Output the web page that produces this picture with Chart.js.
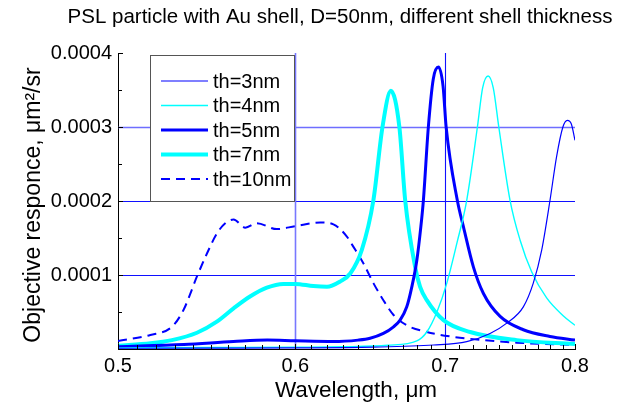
<!DOCTYPE html>
<html>
<head>
<meta charset="utf-8">
<script src="https://cdn.jsdelivr.net/npm/chart.js@4.4.1/dist/chart.umd.min.js"></script>
<style>
  html, body { margin: 0; padding: 0; background: #fff; }
  canvas { display: block; }
</style>
</head>
<body>
<canvas id="spectra" width="622" height="407"></canvas>
<script>
// wavelength (um) and objective responce (um^2/sr)
const wl3 = [0.50, 0.55, 0.60, 0.65, 0.6917, 0.7157, 0.7331, 0.7458, 0.7586, 0.7664, 0.7731, 0.7797, 0.785, 0.7901, 0.7937, 0.797, 0.80];
const th3 = [1.0e-6, 1.2e-6, 1.5e-6, 2.5e-6, 5.4e-6, 1.0e-5, 2.1e-5, 3.5e-5, 5.7e-5, 8.9e-5, 1.34e-4, 2.01e-4, 2.6e-4, 3.0e-4, 3.09e-4, 3.04e-4, 2.82e-4];

const wl4 = [0.50, 0.55, 0.60, 0.63, 0.66, 0.6799, 0.6869, 0.6941, 0.7012, 0.7085, 0.7157, 0.7236, 0.7275, 0.7316, 0.7355, 0.7397, 0.7483, 0.7561, 0.7652, 0.777, 0.7903, 0.80];
const th4 = [1.5e-6, 2e-6, 2.5e-6, 3e-6, 5e-6, 1.1e-5, 2.3e-5, 5.0e-5, 8.9e-5, 1.43e-4, 2.01e-4, 3.0e-4, 3.53e-4, 3.69e-4, 3.53e-4, 3.0e-4, 2.01e-4, 1.47e-4, 1.04e-4, 6.9e-5, 4.5e-5, 3.2e-5];

const wl5 = [0.50, 0.535, 0.563, 0.583, 0.60, 0.624, 0.64, 0.648, 0.6569, 0.6638, 0.6683, 0.6729, 0.6764, 0.6799, 0.6827, 0.6845, 0.688, 0.6915, 0.6952, 0.6985, 0.7007, 0.7088, 0.7133, 0.7206, 0.7281, 0.7407, 0.7586, 0.7797, 0.80];
const th5 = [3e-6, 6e-6, 1.0e-5, 1.2e-5, 1.1e-5, 1.0e-5, 1.2e-5, 1.45e-5, 2.1e-5, 3.0e-5, 3.9e-5, 5.7e-5, 8.4e-5, 1.2e-4, 1.65e-4, 2.01e-4, 3.0e-4, 3.65e-4, 3.81e-4, 3.55e-4, 3.0e-4, 2.01e-4, 1.65e-4, 1.11e-4, 7.5e-5, 4.4e-5, 2.6e-5, 1.7e-5, 1.2e-5];

const wl7 = [0.50, 0.517, 0.5285, 0.5423, 0.5535, 0.5631, 0.5727, 0.5827, 0.5927, 0.60, 0.6112, 0.6199, 0.6282, 0.6349, 0.6425, 0.6502, 0.6563, 0.662, 0.6678, 0.6718, 0.6787, 0.6822, 0.6869, 0.6988, 0.7182, 0.7535, 0.80];
const th7 = [4.5e-6, 7.7e-6, 1.2e-5, 2.2e-5, 3.7e-5, 5.5e-5, 7.1e-5, 8.3e-5, 8.8e-5, 8.8e-5, 8.5e-5, 8.4e-5, 9.1e-5, 1.02e-4, 1.34e-4, 2.01e-4, 3.0e-4, 3.49e-4, 3.0e-4, 2.01e-4, 1.11e-4, 8.4e-5, 6.6e-5, 3.9e-5, 2.3e-5, 1.2e-5, 6.8e-6];

const wl10 = [0.50, 0.5169, 0.5285, 0.5349, 0.5423, 0.5479, 0.5535, 0.5583, 0.5631, 0.5699, 0.5768, 0.5887, 0.60, 0.6156, 0.624, 0.6327, 0.637, 0.6435, 0.6502, 0.6569, 0.6638, 0.6729, 0.6869, 0.7036, 0.7281, 0.7535, 0.80];
const th10 = [1.08e-5, 1.9e-5, 3.0e-5, 5.3e-5, 9.8e-5, 1.29e-4, 1.56e-4, 1.70e-4, 1.75e-4, 1.64e-4, 1.70e-4, 1.62e-4, 1.66e-4, 1.71e-4, 1.685e-4, 1.52e-4, 1.38e-4, 1.16e-4, 8.9e-5, 6.6e-5, 4.6e-5, 3.2e-5, 2.3e-5, 1.7e-5, 1.2e-5, 8.5e-6, 5.4e-6];

const seriesNames = ["th=3nm", "th=4nm", "th=5nm", "th=7nm", "th=10nm"];
const xTicks = [0.5, 0.6, 0.7, 0.8];
const yTicks = [0, 0.0001, 0.0002, 0.0003, 0.0004];

const FONT = "'Liberation Sans', Arial, Helvetica, sans-serif";
const BLUE = "#0000ff";
const CYAN = "#00ffff";

function pts(xs, ys) {
  return xs.map((x, i) => ({ x: x, y: ys[i] }));
}

const data = {
  datasets: [
    { label: seriesNames[0], data: pts(wl3, th3), borderColor: BLUE, borderWidth: 1.2 },
    { label: seriesNames[1], data: pts(wl4, th4), borderColor: CYAN, borderWidth: 1.4 },
    { label: seriesNames[2], data: pts(wl5, th5), borderColor: BLUE, borderWidth: 3 },
    { label: seriesNames[3], data: pts(wl7, th7), borderColor: CYAN, borderWidth: 4 },
    { label: seriesNames[4], data: pts(wl10, th10), borderColor: BLUE, borderWidth: 2, borderDash: [9, 6] }
  ]
};

// blue grid lines, drawn under the curves
const blueGrid = {
  id: "blueGrid",
  beforeDatasetsDraw(chart) {
    const ctx = chart.ctx;
    const xs = chart.scales.x;
    const ys = chart.scales.y;
    const a = chart.chartArea;
    ctx.save();
    yTicks.slice(1, 4).forEach(v => {
      const light = Math.abs(v - 0.0003) < 1e-9;
      const y = Math.round(ys.getPixelForValue(v)) + 0.5;
      ctx.strokeStyle = light ? "#6e6eff" : "#1010ff";
      ctx.lineWidth = light ? 1.6 : 1.1;
      ctx.beginPath();
      ctx.moveTo(a.left, y);
      ctx.lineTo(a.right, y);
      ctx.stroke();
    });
    xTicks.slice(1, 3).forEach(v => {
      const light = Math.abs(v - 0.6) < 1e-9;
      const x = Math.round(xs.getPixelForValue(v)) + 0.5;
      ctx.strokeStyle = light ? "#7878ff" : "#1010ff";
      ctx.lineWidth = light ? 1.6 : 1.1;
      ctx.beginPath();
      ctx.moveTo(x, a.top);
      ctx.lineTo(x, a.bottom);
      ctx.stroke();
    });
    ctx.restore();
  }
};

// title, axis titles, inner minor ticks and the boxed legend
const decorations = {
  id: "decorations",
  afterDraw(chart) {
    const ctx = chart.ctx;
    const xs = chart.scales.x;
    const ys = chart.scales.y;
    const area = chart.chartArea;
    ctx.save();
    ctx.fillStyle = "#000";

    ctx.font = "20.5px " + FONT;
    ctx.textAlign = "center";
    ctx.textBaseline = "middle";
    ctx.fillText("PSL particle with Au shell, D=50nm, different shell thickness", 340, 17);

    ctx.font = "22.5px " + FONT;
    ctx.textBaseline = "alphabetic";
    ctx.fillText("Wavelength, \u03bcm", 356, 397);

    ctx.save();
    ctx.font = "23px " + FONT;
    ctx.translate(40, 205);
    ctx.rotate(-Math.PI / 2);
    ctx.fillText("Objective responce, \u03bcm\u00b2/sr", 0, 0);
    ctx.restore();

    // ticks pointing into the plot
    ctx.strokeStyle = "#000";
    ctx.lineWidth = 1;
    ctx.beginPath();
    for (let k = 1; k <= 8; k++) {
      const y = Math.round(ys.getPixelForValue(k * 0.00005)) + 0.5;
      const len = k % 2 === 0 ? 5 : 4;
      ctx.moveTo(area.left, y);
      ctx.lineTo(area.left + len, y);
    }
    for (let k = 50; k <= 80; k++) {
      const x = Math.round(xs.getPixelForValue(k / 100)) + 0.5;
      const len = k % 10 === 0 ? 5 : 4;
      ctx.moveTo(x, area.bottom);
      ctx.lineTo(x, area.bottom - len);
    }
    ctx.stroke();

    // legend box
    const bx = 150.5, by = 55.5, bw = 144, bh = 146;
    ctx.fillStyle = "#fff";
    ctx.fillRect(bx, by, bw, bh);
    ctx.strokeStyle = "#555";
    ctx.lineWidth = 1;
    ctx.strokeRect(bx, by, bw, bh);
    ctx.font = "20px " + FONT;
    ctx.textAlign = "left";
    ctx.textBaseline = "middle";
    chart.data.datasets.forEach((ds, i) => {
      const y = 81 + i * 24.5;
      ctx.save();
      ctx.strokeStyle = ds.borderColor;
      ctx.lineWidth = ds.borderWidth;
      ctx.setLineDash(ds.borderDash || []);
      ctx.beginPath();
      ctx.moveTo(161, y);
      ctx.lineTo(208, y);
      ctx.stroke();
      ctx.restore();
      ctx.fillStyle = "#000";
      ctx.fillText(ds.label, 213, y + 1);
    });
    ctx.restore();
  }
};

new Chart(document.getElementById("spectra").getContext("2d"), {
  type: "line",
  data: data,
  plugins: [blueGrid, decorations],
  options: {
    responsive: false,
    animation: false,
    devicePixelRatio: 1,
    layout: { padding: { left: 0, right: 47, top: 53, bottom: 0 } },
    elements: {
      point: { radius: 0 },
      line: { fill: false, cubicInterpolationMode: "monotone" }
    },
    plugins: {
      legend: { display: false },
      title: { display: false },
      tooltip: { enabled: false }
    },
    scales: {
      x: {
        type: "logarithmic",
        min: 0.5,
        max: 0.8,
        afterBuildTicks: scale => { scale.ticks = xTicks.map(v => ({ value: v })); },
        afterFit: scale => { scale.height = 58; },
        ticks: {
          autoSkip: false,
          maxRotation: 0,
          padding: 5,
          color: "#000",
          font: { family: FONT, size: 20 },
          callback: v => Number(v).toFixed(1)
        },
        grid: { display: false, drawTicks: false },
        border: { display: true, color: "#000", width: 1 }
      },
      y: {
        min: 0,
        max: 0.0004,
        afterBuildTicks: scale => { scale.ticks = yTicks.map(v => ({ value: v })); },
        afterFit: scale => { scale.width = 118; },
        ticks: {
          padding: 6,
          color: "#000",
          font: { family: FONT, size: 20 },
          callback: v => (v === 0 ? "" : Number(v).toFixed(4))
        },
        grid: { display: false, drawTicks: false },
        border: { display: true, color: "#000", width: 1 }
      }
    }
  }
});
</script>
</body>
</html>
